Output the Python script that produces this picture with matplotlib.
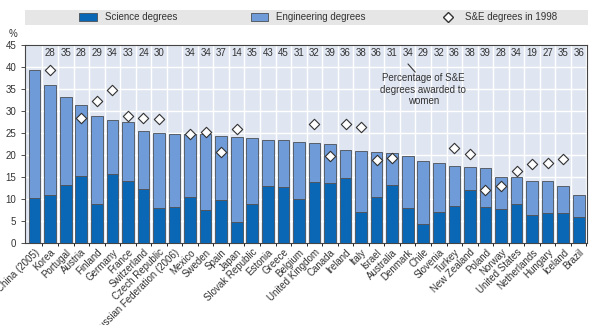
import numpy as np
import matplotlib
matplotlib.use('Agg')
import matplotlib.pyplot as plt
from matplotlib.patches import Rectangle
from matplotlib.lines import Line2D

plt.rcParams['font.family'] = ['Liberation Sans Narrow', 'Liberation Sans', 'DejaVu Sans']

# --- Data ---
countries = ['China (2005)', 'Korea', 'Portugal', 'Austria', 'Finland', 'Germany', 'France',
             'Switzerland', 'Czech Republic', 'Russian Federation (2006)', 'Mexico', 'Sweden',
             'Spain', 'Japan', 'Slovak Republic', 'Estonia', 'Greece', 'Belgium',
             'United Kingdom', 'Canada', 'Ireland', 'Italy', 'Israel', 'Australia', 'Denmark',
             'Chile', 'Slovenia', 'Turkey', 'New Zealand', 'Poland', 'Norway', 'United States',
             'Netherlands', 'Hungary', 'Iceland', 'Brazil']
total = [39.3, 35.9, 33.2, 31.3, 28.9, 28.0, 27.6, 25.6, 25.1, 24.8, 24.7, 24.7, 24.4, 24.2,
         23.9, 23.5, 23.4, 22.9, 22.8, 22.5, 21.1, 21.0, 20.8, 20.4, 19.8, 18.6, 18.2, 17.6,
         17.3, 17.0, 15.1, 15.0, 14.2, 14.2, 13.0, 11.0]
science = [10.2, 10.9, 13.3, 15.3, 8.9, 15.7, 14.2, 12.3, 8.0, 8.2, 10.5, 7.6, 9.8, 4.7,
           8.9, 13.0, 12.8, 10.1, 14.0, 13.7, 14.8, 7.0, 10.5, 13.2, 7.9, 4.3, 7.0, 8.5,
           12.0, 8.2, 7.7, 8.9, 6.4, 6.8, 6.8, 6.0]
se_1998 = [np.nan, 39.4, np.nan, 28.4, 32.3, 34.9, 28.9, 28.4, 28.2, np.nan, 24.8, 25.2,
           20.7, 26.0, np.nan, np.nan, np.nan, np.nan, 27.0, 19.8, 27.0, 26.5, 19.0, 19.4,
           np.nan, np.nan, np.nan, 21.7, 20.2, 12.0, 12.9, 16.3, 18.0, 18.2, 19.1, np.nan]
women = ['', '28', '35', '28', '29', '34', '33', '24', '30', '', '34', '34', '37', '14', '35',
         '43', '45', '31', '32', '39', '36', '38', '36', '31', '34', '29', '32', '36', '38',
         '39', '28', '34', '19', '27', '35', '36']

engineering = np.array(total) - np.array(science)
x = np.arange(len(countries))

sci_color = '#0a67b5'
eng_color = '#6f9bd8'
edge = '#4a4f55'

fig = plt.figure(figsize=(5.89, 3.25), dpi=100)
ax = fig.add_axes([0.043, 0.252, 0.954, 0.609])
ax.set_facecolor('#dfe5f1')

ax.bar(x, science, width=0.75, color=sci_color, edgecolor=edge, linewidth=0.6, zorder=3)
ax.bar(x, engineering, bottom=science, width=0.75, color=eng_color, edgecolor=edge,
       linewidth=0.6, zorder=3)
ax.scatter(x, se_1998, marker='D', s=28, facecolor='white', edgecolor='#333333',
           linewidth=0.8, zorder=4)

for xi, w in zip(x, women):
    if w:
        ax.text(xi, 43.3, w, ha='center', va='center', fontsize=7, color='#333333')

ax.annotate('', xy=(24.6, 38.4), xytext=(23.9, 41.2),
            arrowprops=dict(arrowstyle='-', color='#333333', lw=0.8))
ax.text(25.0, 34.9, 'Percentage of S&E\ndegrees awarded to\nwomen', ha='center', va='center',
        fontsize=7, color='#333333', linespacing=1.2)

ax.set_xlim(-0.6, len(countries) - 0.45)
ax.set_ylim(0, 45)
ax.set_yticks(range(0, 46, 5))
ax.set_xticks(x)
ax.set_xticklabels(countries, rotation=45, ha='right', rotation_mode='anchor', fontsize=7,
                   color='#333333')
ax.tick_params(axis='y', labelsize=7, colors='#333333', length=3, width=0.6)
ax.tick_params(axis='x', length=0, pad=3)
ax.set_xticks(x + 0.5, minor=True)
ax.grid(True, which='minor', axis='x', color='white', linewidth=1.0, zorder=0)
ax.grid(True, which='major', axis='y', color='white', linewidth=1.0, zorder=0)
for s in ax.spines.values():
    s.set_color('#444444')
    s.set_linewidth(0.8)

fig.text(0.022, 0.885, '%', fontsize=7, color='#333333', ha='center')

# legend band
fig.patches.append(Rectangle((0.043, 0.923), 0.956, 0.047, transform=fig.transFigure,
                             facecolor='#e6e6e6', edgecolor='none'))
handles = [Rectangle((0, 0), 1, 1, facecolor=sci_color, edgecolor=edge, linewidth=0.6),
           Rectangle((0, 0), 1, 1, facecolor=eng_color, edgecolor=edge, linewidth=0.6),
           Line2D([], [], marker='D', linestyle='none', markerfacecolor='white',
                  markeredgecolor='#333333', markersize=5)]
fig.legend(handles, ['Science degrees', 'Engineering degrees', 'S&E degrees in 1998'],
           loc='center', bbox_to_anchor=(0.54, 0.947), ncol=3, frameon=False, fontsize=7,
           columnspacing=7.6, handlelength=1.8, handleheight=0.9, labelcolor='#333333')

fig.savefig('out.png', dpi=100)
